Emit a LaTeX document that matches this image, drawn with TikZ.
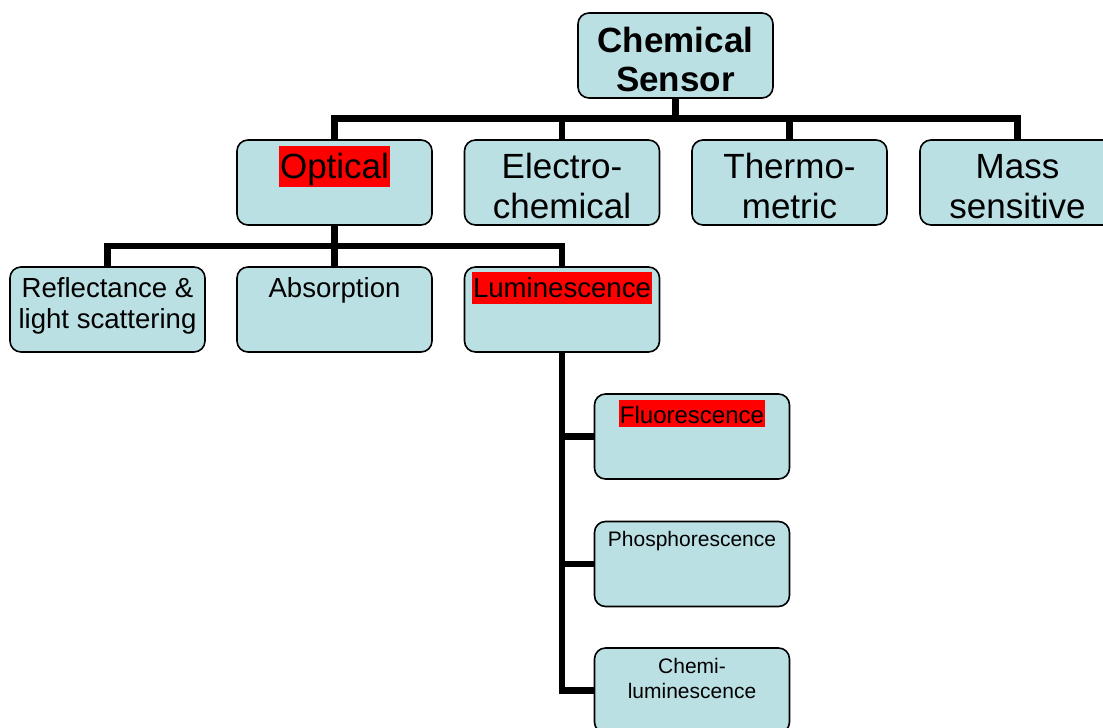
\documentclass[tikz,border=0pt]{standalone}
\usepackage{fontspec}
\setmainfont{Liberation Sans}
\usetikzlibrary{backgrounds}
\definecolor{boxfill}{RGB}{187,224,227}
\definecolor{hlred}{RGB}{255,0,0}
\newcommand{\bxt}[4]{\parbox[c][85pt][t]{195pt}{\centering\fontsize{#1}{#2}\selectfont\rule{0pt}{#3}#4}}
\newcommand{\hlt}[1]{{\setlength{\fboxsep}{0pt}\colorbox{hlred}{\rule[-0.27em]{0pt}{1.18em}\kern1pt #1\kern1pt}}}
\newcommand{\hltf}[1]{{\setlength{\fboxsep}{0pt}\colorbox{hlred}{\rule[-0.17em]{0pt}{1.13em}\kern1pt #1\kern1pt}}}
\tikzset{
  box/.style={draw=black, line width=1.6pt, fill=boxfill, rounded corners=11pt, inner sep=0pt, outer sep=0pt},
  conn/.style={line width=6.5pt, draw=black}
}
\begin{document}
\begin{tikzpicture}[x=1pt,y=-1pt]
\useasboundingbox (0,0) rectangle (1103,728);
% level 0
\node[box] (chem) at (675.5,55.5) {\bxt{35}{39}{39pt}{\bfseries Chemical\\Sensor}};
% level 1
\node[box] (opt) at (334.5,182.5) {\bxt{35}{40}{38pt}{\hlt{Optical}}};
\node[box] (elec) at (562,182.5) {\bxt{35}{40}{38pt}{Electro-\\chemical}};
\node[box] (therm) at (789.5,182.5) {\bxt{35}{40}{38pt}{Thermo-\\metric}};
\node[box] (mass) at (1017.5,182.5) {\bxt{35}{40}{38pt}{Mass\\sensitive}};
% level 2
\node[box] (refl) at (107.5,309.5) {\bxt{27.6}{31.5}{30pt}{Reflectance \&\\light scattering}};
\node[box] (abs) at (334.5,309.5) {\bxt{27.6}{31.5}{30pt}{Absorption}};
\node[box] (lum) at (562,309.5) {\bxt{27.6}{31.5}{30pt}{\hlt{Luminescence}}};
% level 3
\node[box] (fluor) at (692,436.5) {\bxt{24}{28}{29pt}{\hltf{Fluorescence}}};
\node[box] (phos) at (692,564) {\bxt{21}{25}{25pt}{Phosphorescence}};
\node[box] (chemi) at (692,690.5) {\bxt{21}{25}{25pt}{Chemi-\\luminescence}};
% connectors
\coordinate (b1) at (0,118.5);
\coordinate (b2) at (0,246);
\begin{scope}[on background layer]
\draw[conn] (chem.south) -- (chem.south |- b1);
\draw[conn] (opt.north) -- (opt.north |- b1) -- (mass.north |- b1) -- (mass.north);
\draw[conn] (elec.north) -- (elec.north |- b1);
\draw[conn] (therm.north) -- (therm.north |- b1);
\draw[conn] (opt.south) -- (abs.north);
\draw[conn] (refl.north) -- (refl.north |- b2) -- (lum.north |- b2) -- (lum.north);
\draw[conn] (lum.south) |- (chemi.west);
\draw[conn] (fluor.west) -- (fluor.west -| lum.south);
\draw[conn] (phos.west) -- (phos.west -| lum.south);
\end{scope}
\end{tikzpicture}
\end{document}
